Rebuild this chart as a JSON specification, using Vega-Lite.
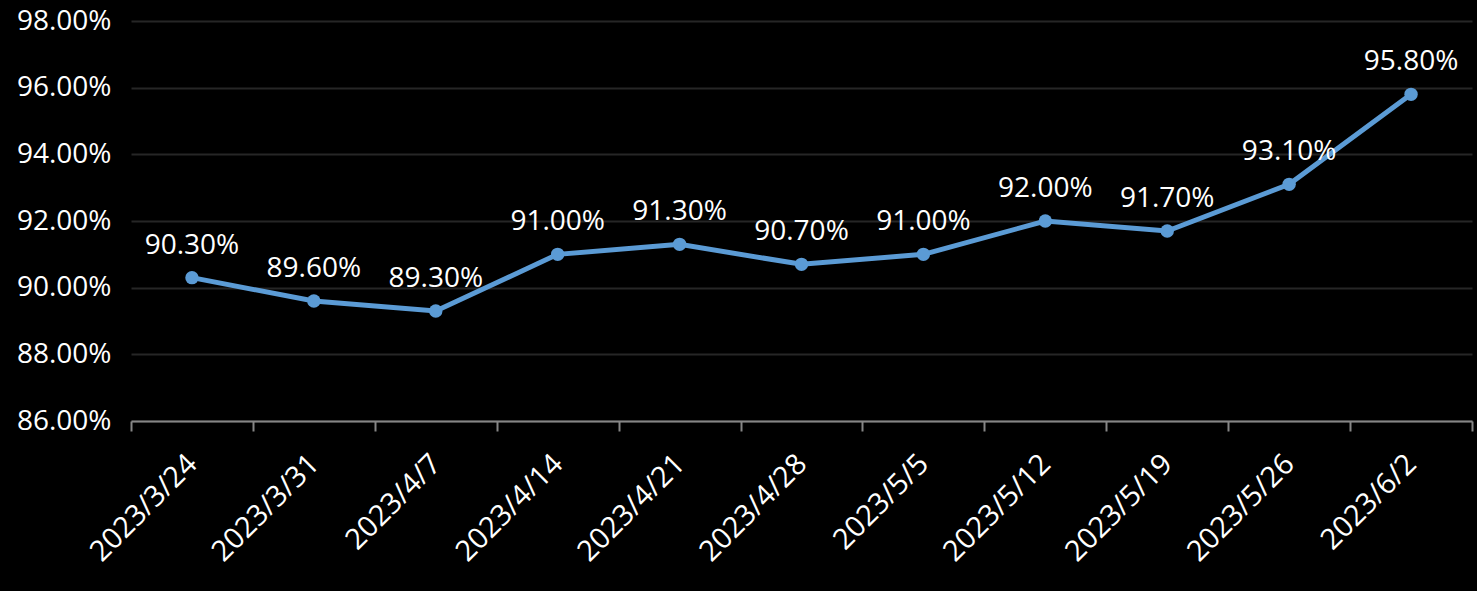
{
  "$schema": "https://vega.github.io/schema/vega-lite/v6.json",
  "width": 1341,
  "height": 400,
  "autosize": {"type": "none"},
  "padding": {"left": 131, "top": 21, "right": 5, "bottom": 170},
  "background": "#000000",
  "config": {"view": {"stroke": null}, "font": "Open Sans"},
  "data": {"values": [
    {"date": "2023/3/24", "rate": 0.903},
    {"date": "2023/3/31", "rate": 0.896},
    {"date": "2023/4/7", "rate": 0.893},
    {"date": "2023/4/14", "rate": 0.910},
    {"date": "2023/4/21", "rate": 0.913},
    {"date": "2023/4/28", "rate": 0.907},
    {"date": "2023/5/5", "rate": 0.910},
    {"date": "2023/5/12", "rate": 0.920},
    {"date": "2023/5/19", "rate": 0.917},
    {"date": "2023/5/26", "rate": 0.931},
    {"date": "2023/6/2", "rate": 0.958}
  ]},
  "encoding": {
    "x": {
      "field": "date", "type": "ordinal", "sort": null,
      "scale": {"type": "band", "paddingInner": 0, "paddingOuter": 0},
      "axis": {
        "title": null, "labelAngle": -45, "labelAlign": "right", "labelBaseline": "middle",
        "labelFontSize": 29, "labelColor": "#ffffff", "labelFont": "Open Sans",
        "tickBand": "extent", "tickSize": 10, "tickColor": "#868686", "tickWidth": 2,
        "domainColor": "#868686", "domainWidth": 2, "labelPadding": 28, "grid": false
      }
    },
    "y": {
      "field": "rate", "type": "quantitative",
      "scale": {"domain": [0.86, 0.98], "nice": false, "zero": false},
      "axis": {
        "title": null, "format": ".2%", "values": [0.86, 0.88, 0.9, 0.92, 0.94, 0.96, 0.98],
        "labelFontSize": 28, "labelColor": "#ffffff", "labelFont": "Open Sans",
        "domain": false, "ticks": false, "labelPadding": 20,
        "gridColor": "#262626", "gridWidth": 2
      }
    }
  },
  "layer": [
    {"mark": {"type": "line", "color": "#5B9BD5", "strokeWidth": 5}},
    {"mark": {"type": "point", "filled": true, "color": "#5B9BD5", "size": 180, "opacity": 1}},
    {
      "mark": {"type": "text", "color": "#ffffff", "fontSize": 28, "font": "Open Sans", "dy": -24, "baseline": "alphabetic", "align": "center"},
      "encoding": {"text": {"field": "rate", "type": "quantitative", "format": ".2%"}}
    }
  ]
}
